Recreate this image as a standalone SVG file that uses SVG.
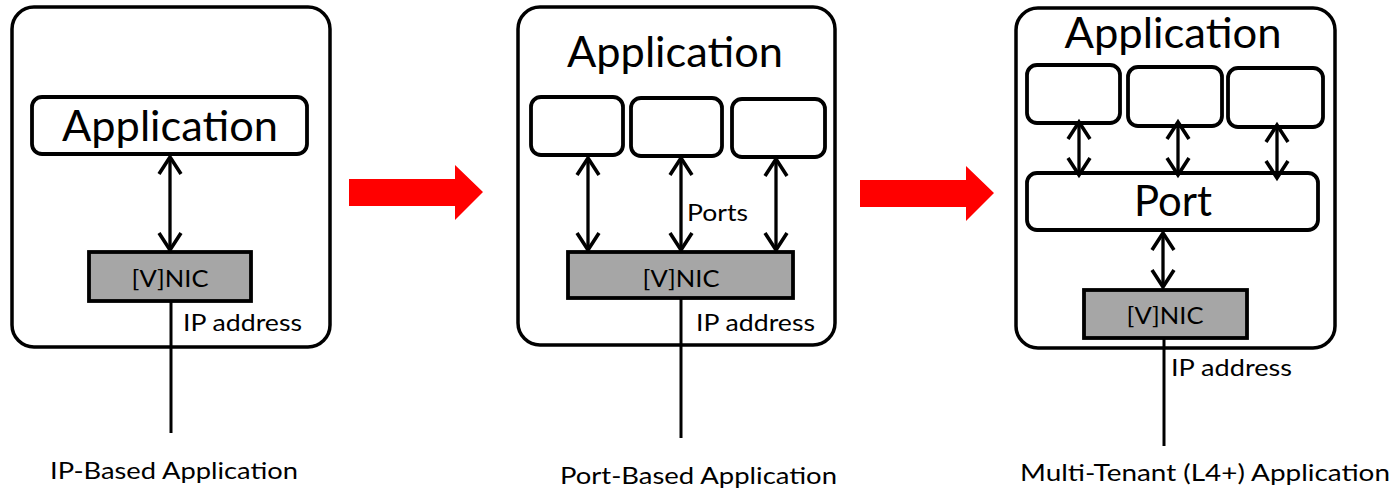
<svg xmlns="http://www.w3.org/2000/svg" width="1394" height="491" viewBox="0 0 1394 491">
  <style>
    .frame { fill: #ffffff; stroke: #000000; stroke-width: 3.5; }
    .box { fill: #ffffff; stroke: #000000; stroke-width: 3.8; }
    .nic { fill: #a6a6a6; stroke: #000000; stroke-width: 3.8; }
    .link { fill: none; stroke: #000000; stroke-width: 3.3; }
    .wire { fill: none; stroke: #000000; stroke-width: 3; }
    .big { font-family: Lato, "Open Sans", sans-serif; font-size: 42px; fill: #000000; text-anchor: middle; }
    .mid { font-family: Lato, "Open Sans", sans-serif; font-size: 23px; fill: #000000; }
    .nictext { font-family: Lato, "Open Sans", sans-serif; font-size: 23px; fill: #000000; text-anchor: middle; }
    .caption { font-family: Lato, "Open Sans", sans-serif; font-size: 24px; fill: #000000; }
    .shift { fill: #ff0000; stroke: none; }
  </style>
  <defs>
    <!-- open chevron head, reused at both ends of every two-way link -->
    <marker id="chev" markerUnits="userSpaceOnUse" viewBox="-22 -15 27 30" markerWidth="27" markerHeight="30" refX="0" refY="0" orient="auto-start-reverse">
      <polyline points="-17,-11 0,0 -17,11" fill="none" stroke="#000000" stroke-width="3.6"/>
    </marker>
  </defs>

  <!-- transition arrows -->
  <g id="shift-1">
    <polygon class="shift" points="349,179 455,179 455,165 483,192 455,220 455,206 349,206"/>
  </g>
  <g id="shift-2">
    <polygon class="shift" points="860,180 966,180 966,166 994,193 966,221 966,207 860,207"/>
  </g>

  <!-- IP-based stack -->
  <g id="ip-frame">
    <rect class="frame" x="12" y="7" width="318" height="340" rx="22"/>
  </g>
  <g id="ip-app">
    <rect class="box" x="32" y="97" width="275" height="57" rx="10"/>
    <text class="big" x="170" y="141" textLength="216" lengthAdjust="spacingAndGlyphs">Application</text>
  </g>
  <g id="ip-nic">
    <rect class="nic" x="89" y="252" width="162" height="49"/>
    <text class="nictext" x="170" y="287" textLength="77" lengthAdjust="spacingAndGlyphs">[V]NIC</text>
  </g>
  <text class="mid" x="183" y="331" textLength="119" lengthAdjust="spacingAndGlyphs">IP address</text>
  <text class="caption" x="50" y="479" textLength="248" lengthAdjust="spacingAndGlyphs">IP-Based  Application</text>

  <!-- Port-based stack -->
  <g id="port-frame">
    <rect class="frame" x="518" y="7" width="317" height="338" rx="22"/>
  </g>
  <text class="big" x="675" y="67" textLength="216" lengthAdjust="spacingAndGlyphs">Application</text>
  <g id="port-app-1">
    <rect class="box" x="531" y="97" width="92" height="58" rx="10"/>
  </g>
  <g id="port-app-2">
    <rect class="box" x="631" y="98" width="91" height="58" rx="10"/>
  </g>
  <g id="port-app-3">
    <rect class="box" x="732" y="99" width="93" height="58" rx="10"/>
  </g>
  <g id="port-nic">
    <rect class="nic" x="568" y="252" width="225" height="46"/>
    <text class="nictext" x="681" y="287" textLength="77" lengthAdjust="spacingAndGlyphs">[V]NIC</text>
  </g>
  <text class="mid" x="687" y="221" textLength="61" lengthAdjust="spacingAndGlyphs">Ports</text>
  <text class="mid" x="696" y="331" textLength="119" lengthAdjust="spacingAndGlyphs">IP address</text>
  <text class="caption" x="560" y="484" textLength="277" lengthAdjust="spacingAndGlyphs">Port-Based  Application</text>

  <!-- Multi-tenant stack -->
  <g id="mt-frame">
    <rect class="frame" x="1016" y="8" width="319" height="340" rx="22"/>
  </g>
  <text class="big" x="1173" y="48" textLength="217" lengthAdjust="spacingAndGlyphs">Application</text>
  <g id="mt-app-1">
    <rect class="box" x="1027" y="65" width="93" height="58" rx="10"/>
  </g>
  <g id="mt-app-2">
    <rect class="box" x="1128" y="67" width="94" height="59" rx="10"/>
  </g>
  <g id="mt-app-3">
    <rect class="box" x="1228" y="68" width="95" height="59" rx="10"/>
  </g>
  <g id="mt-port">
    <rect class="box" x="1027" y="173" width="291" height="57" rx="10"/>
    <text class="big" x="1173" y="216" textLength="78" lengthAdjust="spacingAndGlyphs">Port</text>
  </g>
  <g id="mt-nic">
    <rect class="nic" x="1084" y="290" width="163" height="48"/>
    <text class="nictext" x="1165" y="324" textLength="77" lengthAdjust="spacingAndGlyphs">[V]NIC</text>
  </g>
  <text class="mid" x="1171" y="376" textLength="121" lengthAdjust="spacingAndGlyphs">IP address</text>
  <text class="caption" x="1020" y="481" textLength="370" lengthAdjust="spacingAndGlyphs">Multi-Tenant (L4+)  Application</text>

  <!-- connectors -->
  <g id="connectors">
    <line class="link" x1="170" y1="157" x2="170" y2="250" marker-start="url(#chev)" marker-end="url(#chev)"/>
    <line class="wire" x1="171" y1="301" x2="171" y2="433"/>

    <line class="link" x1="588" y1="158" x2="588" y2="250" marker-start="url(#chev)" marker-end="url(#chev)"/>
    <line class="link" x1="681" y1="158" x2="681" y2="250" marker-start="url(#chev)" marker-end="url(#chev)"/>
    <line class="link" x1="776" y1="159" x2="776" y2="250" marker-start="url(#chev)" marker-end="url(#chev)"/>
    <line class="wire" x1="681" y1="298" x2="681" y2="438"/>

    <line class="link" x1="1079" y1="122" x2="1079" y2="175" marker-start="url(#chev)" marker-end="url(#chev)"/>
    <line class="link" x1="1178" y1="122" x2="1178" y2="175" marker-start="url(#chev)" marker-end="url(#chev)"/>
    <line class="link" x1="1277" y1="125" x2="1277" y2="178" marker-start="url(#chev)" marker-end="url(#chev)"/>
    <line class="link" x1="1163" y1="233" x2="1163" y2="287" marker-start="url(#chev)" marker-end="url(#chev)"/>
    <line class="wire" x1="1164" y1="338" x2="1164" y2="446"/>
  </g>
</svg>
